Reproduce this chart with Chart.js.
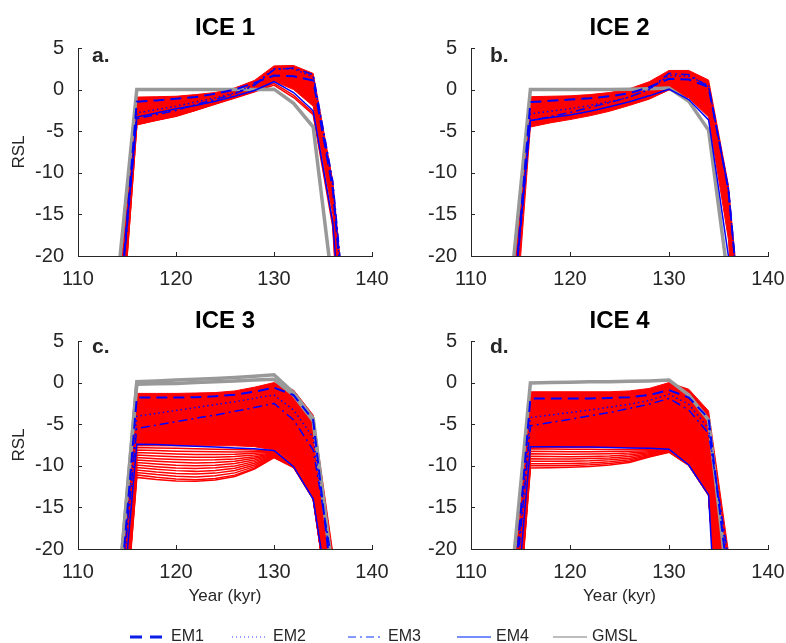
<!DOCTYPE html>
<html>
<head>
<meta charset="utf-8">
<title>RSL ensembles, ICE 1-4</title>
<script src="https://cdn.jsdelivr.net/npm/chart.js@4.4.1/dist/chart.umd.min.js"></script>
<style>
  html, body { margin: 0; padding: 0; background: #ffffff; }
  #fig { position: relative; width: 786px; height: 643px; overflow: hidden; background: #ffffff; }
  #fig canvas { position: absolute; }
  #key { position: absolute; left: 0; top: 600px; }
</style>
</head>
<body>
<div id="fig">
  <canvas id="ice1" width="393" height="300" style="left:0;top:0;width:393px;height:300px"></canvas>
  <canvas id="ice2" width="393" height="300" style="left:393px;top:0;width:393px;height:300px"></canvas>
  <canvas id="ice3" width="393" height="319" style="left:0;top:293px;width:393px;height:319px"></canvas>
  <canvas id="ice4" width="393" height="319" style="left:393px;top:293px;width:393px;height:319px"></canvas>
  <svg id="key" width="786" height="43" xmlns="http://www.w3.org/2000/svg"></svg>
</div>
<script>
// Sample ages (kyr) shared by every curve
const years = [114, 116, 118, 120, 122, 124, 126, 128, 130, 132, 134, 136, 138];
const emNames = ['EM1', 'EM2', 'EM3', 'EM4'];

// ---- ICE 1 ----
const gmsl1   = [-23.5, 0, 0, 0, 0, 0, 0, 0, 0.05, -1.65, -4.5, -23.8, -45];
const em1Ice1 = [-30, -1.45, -1.3, -1.1, -0.9, -0.5, 0, 0.8, 1.7, 1.6, 1.1, -12, -38];
const em2Ice1 = [-30, -2.8, -2.4, -2.0, -1.5, -1.0, -0.4, 0.6, 2.5, 2.5, 1.5, -11.5, -38];
const em3Ice1 = [-30, -3.5, -3.0, -2.5, -1.8, -1.2, -0.5, 0.5, 2.4, 2.6, 1.8, -11, -36];
const em4Ice1 = [-29, -3.3, -2.8, -2.3, -1.9, -1.4, -0.8, -0.1, 0.95, -0.35, -2.55, -16, -46];
const redTop1  = [-26, -0.9, -0.85, -0.8, -0.6, -0.35, 0.2, 1.1, 2.85, 2.9, 1.95, -11, -36];
const redBase1 = [-36, -4.25, -3.7, -3.2, -2.5, -1.7, -0.9, -0.15, 1.0, 0.0, -2.0, -15, -50];
const redLines1 = [
  [-36, -4.1, -3.6, -3.1, -2.45, -1.7, -0.95, -0.2, 0.75, -0.7, -2.8, -16, -54],
  [-36, -4.2, -3.7, -3.2, -2.5, -1.75, -1.0, -0.25, 0.55, -0.95, -3.0, -16.5, -56]
];

// ---- ICE 2 ----
const gmsl2   = [-24, 0, 0, 0, 0, 0, 0.05, 0.1, 0.2, -1.4, -4.9, -23, -45];
const em1Ice2 = [-30, -1.5, -1.35, -1.2, -1.05, -0.8, -0.45, 0.3, 1.3, 1.2, 0.3, -12, -38];
const em2Ice2 = [-30, -2.9, -2.6, -2.3, -1.9, -1.45, -0.9, 0.0, 1.7, 1.6, 0.5, -12, -38];
const em3Ice2 = [-30, -3.75, -3.25, -2.75, -2.15, -1.55, -0.9, 0.05, 1.95, 1.8, 0.35, -12, -38];
const em4Ice2 = [-29, -3.7, -3.35, -3.05, -2.6, -2.05, -1.45, -0.75, 0.05, -1.2, -3.65, -20, -50];
const redTop2  = [-26, -0.85, -0.8, -0.75, -0.6, -0.35, 0.1, 0.95, 2.3, 2.3, 1.15, -11.5, -37];
const redBase2 = [-36, -4.5, -4.0, -3.6, -3.15, -2.6, -1.9, -1.15, -0.05, -1.0, -3.3, -18, -55];
const redLines2 = [];

// ---- ICE 3 ----
const gmsl3   = [-26.7, 0.1, 0.2, 0.3, 0.4, 0.5, 0.6, 0.75, 0.95, -1.2, -4.3, -22.8, -45];
const gmsl3b  = [-26.7, -0.2, -0.15, -0.1, 0, 0.1, 0.2, 0.3, 0.4, -1.5, -4.6, -23.5, -45];
const em1Ice3 = [-30, -1.8, -1.8, -1.8, -1.75, -1.65, -1.45, -1.1, -0.6, -1.5, -4.5, -25, -45];
const em2Ice3 = [-30, -4.05, -3.7, -3.35, -3.0, -2.65, -2.3, -1.9, -1.5, -3.3, -6.6, -23.3, -45];
const em3Ice3 = [-30, -5.5, -5.1, -4.7, -4.3, -3.9, -3.45, -3.0, -2.5, -4.5, -8.1, -22, -45];
const em4Ice3 = [-34, -7.4, -7.45, -7.55, -7.65, -7.75, -7.85, -7.95, -8.15, -10.1, -14.0, -29, -50];
const redTop3  = [-28, -1.3, -1.3, -1.3, -1.25, -1.2, -1.0, -0.55, 0.0, -0.9, -3.9, -20.4, -40];
const redBase3 = [-38, -7.6, -7.6, -7.6, -7.6, -7.6, -7.6, -7.7, -8.1, -9.6, -13.4, -30, -50];
const redLines3 = [
  [-38, -7.8, -7.85, -7.9, -7.95, -8.0, -8.05, -8.1, -8.25, -9.7, -13.5, -30, -50],
  [-38, -8.1, -8.17, -8.24, -8.29, -8.32, -8.33, -8.3, -8.3, -9.75, -13.5, -30, -50],
  [-38.5, -8.4, -8.5, -8.58, -8.63, -8.64, -8.61, -8.5, -8.38, -9.8, -13.6, -30, -50],
  [-38.5, -8.7, -8.82, -8.91, -8.97, -8.96, -8.89, -8.7, -8.45, -9.85, -13.6, -30, -50],
  [-39, -9.0, -9.14, -9.25, -9.31, -9.28, -9.17, -8.9, -8.52, -9.9, -13.7, -30, -50],
  [-39, -9.3, -9.46, -9.58, -9.65, -9.6, -9.45, -9.1, -8.6, -9.95, -13.7, -30, -50],
  [-39, -9.6, -9.78, -9.92, -9.99, -9.92, -9.73, -9.3, -8.67, -10.0, -13.8, -30, -50],
  [-39.5, -9.9, -10.1, -10.25, -10.33, -10.24, -10.01, -9.5, -8.74, -10.0, -13.8, -30, -50],
  [-39.5, -10.2, -10.42, -10.58, -10.67, -10.56, -10.29, -9.7, -8.8, -10.05, -13.8, -30, -50],
  [-40, -10.5, -10.74, -10.92, -11.0, -10.88, -10.57, -9.9, -8.86, -10.1, -13.9, -30, -50],
  [-40, -10.8, -11.06, -11.25, -11.34, -11.2, -10.85, -10.1, -8.92, -10.1, -13.9, -30, -50],
  [-40.5, -11.1, -11.37, -11.58, -11.67, -11.52, -11.12, -10.28, -8.97, -10.15, -14.0, -30, -50],
  [-40.5, -11.4, -11.66, -11.82, -11.87, -11.72, -11.28, -10.38, -9.0, -10.2, -14.0, -30, -50]
];

// ---- ICE 4 ----
const gmsl4   = [-25, -0.05, 0, 0.05, 0.1, 0.1, 0.15, 0.2, 0.3, -1.5, -4.5, -25, -45];
const em1Ice4 = [-30, -1.9, -1.9, -1.9, -1.9, -1.85, -1.75, -1.5, -0.9, -1.8, -4.3, -24, -45];
const em2Ice4 = [-30, -4.2, -3.9, -3.6, -3.3, -2.95, -2.6, -2.15, -1.4, -2.6, -5.5, -22.5, -45];
const em3Ice4 = [-31, -5.2, -4.8, -4.4, -4.0, -3.6, -3.1, -2.6, -1.9, -3.3, -6.1, -21.1, -45];
const em4Ice4 = [-35, -7.7, -7.7, -7.75, -7.75, -7.8, -7.85, -7.9, -8.0, -9.9, -13.5, -56, -80];
const redTop4  = [-28, -1.1, -1.1, -1.1, -1.1, -1.1, -1.0, -0.7, 0.0, -0.8, -3.4, -20.3, -40];
const redBase4 = [-38, -7.8, -7.8, -7.8, -7.8, -7.8, -7.8, -7.9, -8.0, -9.6, -13.1, -45, -70];
const redLines4 = [
  [-38, -7.95, -7.98, -8.0, -8.02, -8.03, -8.04, -8.05, -8.08, -9.6, -13.2, -45, -70],
  [-38, -8.25, -8.28, -8.3, -8.3, -8.28, -8.25, -8.18, -8.11, -9.65, -13.25, -45, -70],
  [-38.5, -8.55, -8.58, -8.6, -8.59, -8.55, -8.47, -8.3, -8.15, -9.7, -13.3, -45, -70],
  [-38.5, -8.85, -8.88, -8.9, -8.87, -8.81, -8.68, -8.43, -8.19, -9.75, -13.35, -45, -70],
  [-39, -9.15, -9.17, -9.17, -9.13, -9.05, -8.89, -8.55, -8.23, -9.8, -13.4, -45, -70],
  [-39, -9.45, -9.46, -9.45, -9.4, -9.28, -9.08, -8.67, -8.26, -9.85, -13.45, -45, -70],
  [-39.5, -9.75, -9.75, -9.72, -9.65, -9.51, -9.27, -8.78, -8.3, -9.9, -13.5, -45, -70],
  [-39.5, -10.0, -9.99, -9.95, -9.87, -9.71, -9.44, -8.88, -8.33, -9.9, -13.5, -45, -70],
  [-40, -10.25, -10.23, -10.18, -10.08, -9.9, -9.6, -8.95, -8.36, -9.95, -13.55, -45, -70]
];

// ---- shared styling ----
const FONT = '"Liberation Sans", Arial, Helvetica, sans-serif';
const INK = '#262626';
const RED = '#ff0000';
const GREY = '#999999';
const emStyle = [
  { color: '#0000ff', width: 2,   dash: [11, 6] },
  { color: '#0000ff', width: 1.5, dash: [1.5, 3] },
  { color: '#0000ff', width: 1.5, dash: [9, 4, 2, 4] },
  { color: '#0000ff', width: 1.5, dash: [] }
];
const keyStyle = [
  { color: '#0a1ee6', width: 3,   dash: '12 8' },
  { color: '#3040ff', width: 1.2, dash: '1 3' },
  { color: '#5a78ff', width: 1.5, dash: '8 4 2 4' },
  { color: '#4a66ff', width: 1.5, dash: '' },
  { color: '#bdbdbd', width: 2,   dash: '' }
];

const panels = [
  { id: 'ice1', title: 'ICE 1', tag: 'a.', dx: 14, dy: 14, em: [em1Ice1, em2Ice1, em3Ice1, em4Ice1],
    gmsl: [gmsl1], members: redLines1, top: redTop1, base: redBase1, yTitle: true, xTitle: false, xHeight: 44, padRight: 21 },
  { id: 'ice2', title: 'ICE 2', tag: 'b.', dx: 19, dy: 14, em: [em1Ice2, em2Ice2, em3Ice2, em4Ice2],
    gmsl: [gmsl2], members: redLines2, top: redTop2, base: redBase2, yTitle: false, xTitle: false, xHeight: 44, padRight: 18 },
  { id: 'ice3', title: 'ICE 3', tag: 'c.', dx: 14, dy: 12, em: [em1Ice3, em2Ice3, em3Ice3, em4Ice3],
    gmsl: [gmsl3, gmsl3b], members: redLines3, top: redTop3, base: redBase3, yTitle: true, xTitle: true, xHeight: 63, padRight: 21 },
  { id: 'ice4', title: 'ICE 4', tag: 'd.', dx: 19, dy: 12, em: [em1Ice4, em2Ice4, em3Ice4, em4Ice4],
    gmsl: [gmsl4], members: redLines4, top: redTop4, base: redBase4, yTitle: false, xTitle: true, xHeight: 63, padRight: 18 }
];

function pts(vals) { return years.map((x, i) => ({ x: x, y: vals[i] })); }

// Inward tick marks (box-off axes) plus the panel letter in the top-left corner
const axisDecor = {
  id: 'axisDecor',
  afterDatasetsDraw(chart, args, opts) {
    const { ctx, chartArea: a, scales: { x, y } } = chart;
    ctx.save();
    ctx.strokeStyle = INK;
    ctx.lineWidth = 1;
    ctx.beginPath();
    x.ticks.forEach(t => {
      const px = Math.round(x.getPixelForValue(t.value)) + 0.5;
      ctx.moveTo(px, a.bottom); ctx.lineTo(px, a.bottom - 4);
    });
    y.ticks.forEach(t => {
      const py = Math.round(y.getPixelForValue(t.value)) + 0.5;
      ctx.moveTo(a.left, py); ctx.lineTo(a.left + 4, py);
    });
    ctx.stroke();
    ctx.fillStyle = INK;
    ctx.font = 'bold 21px ' + FONT;
    ctx.textAlign = 'left';
    ctx.textBaseline = 'alphabetic';
    ctx.fillText(opts.tag, a.left + opts.dx, a.top + opts.dy);
    ctx.restore();
  }
};

function buildDatasets(p) {
  const ds = [];
  p.em.forEach((vals, i) => ds.push({
    label: emNames[i], data: pts(vals), borderColor: emStyle[i].color,
    borderWidth: emStyle[i].width, borderDash: emStyle[i].dash
  }));
  p.gmsl.forEach(vals => ds.push({ label: 'GMSL', data: pts(vals), borderColor: GREY, borderWidth: 3.5 }));
  p.members.forEach(vals => ds.push({ label: 'member', data: pts(vals), borderColor: RED, borderWidth: 1.5 }));
  ds.push({ label: 'ensemble upper', data: pts(p.top), borderColor: RED, borderWidth: 1 });
  ds.push({ label: 'ensemble lower', data: pts(p.base), borderColor: RED, borderWidth: 1,
            fill: '-1', backgroundColor: RED });
  return ds;
}

panels.forEach(p => {
  new Chart(document.getElementById(p.id), {
    type: 'line',
    data: { datasets: buildDatasets(p) },
    plugins: [axisDecor],
    options: {
      responsive: false,
      animation: false,
      devicePixelRatio: 1,
      layout: { padding: { top: 0, left: 0, bottom: 0, right: p.padRight } },
      elements: {
        point: { radius: 0, hoverRadius: 0 },
        line: { tension: 0, borderCapStyle: 'butt', borderJoinStyle: 'miter', fill: false }
      },
      plugins: {
        legend: { display: false },
        tooltip: { enabled: false },
        title: {
          display: true, text: p.title, color: '#000000', fullSize: false,
          font: { family: FONT, size: 24, weight: 'bold', lineHeight: 1 },
          padding: { top: 16, bottom: 8 }
        },
        axisDecor: { tag: p.tag, dx: p.dx, dy: p.dy }
      },
      scales: {
        x: {
          type: 'linear', position: 'bottom', min: 110, max: 140,
          ticks: { stepSize: 10, padding: 11, color: INK, font: { family: FONT, size: 20 }, maxRotation: 0, autoSkip: false },
          grid: { display: false, drawTicks: false },
          border: { display: true, color: INK, width: 1 },
          title: { display: p.xTitle, text: 'Year (kyr)', color: INK, font: { family: FONT, size: 17 }, padding: { top: 0, bottom: 5 } },
          afterFit(s) { s.height = p.xHeight; s.paddingLeft = 0; s.paddingRight = 0; }
        },
        y: {
          type: 'linear', position: 'left', min: -20, max: 5,
          ticks: { stepSize: 5, padding: 14, color: INK, font: { family: FONT, size: 20 } },
          grid: { display: false, drawTicks: false },
          border: { display: true, color: INK, width: 1 },
          title: { display: p.yTitle, text: 'RSL', color: INK, font: { family: FONT, size: 17 }, padding: { top: 9, bottom: 0 } },
          afterFit(s) { s.width = 78; s.paddingTop = 0; s.paddingBottom = 0; }
        }
      }
    }
  });
});

// Shared key along the bottom of the figure
const keyNames = emNames.concat(['GMSL']);
const keySample = [130, 232, 348, 457, 553];
const keyText = [171, 273, 388, 496, 592];
const svgNS = 'http://www.w3.org/2000/svg';
const key = document.getElementById('key');
keyNames.forEach((name, i) => {
  const ln = document.createElementNS(svgNS, 'line');
  ln.setAttribute('x1', keySample[i]);
  ln.setAttribute('x2', keySample[i] + 34);
  ln.setAttribute('y1', 37);
  ln.setAttribute('y2', 37);
  ln.setAttribute('stroke', keyStyle[i].color);
  ln.setAttribute('stroke-width', keyStyle[i].width);
  if (keyStyle[i].dash) ln.setAttribute('stroke-dasharray', keyStyle[i].dash);
  key.appendChild(ln);
  const tx = document.createElementNS(svgNS, 'text');
  tx.setAttribute('x', keyText[i]);
  tx.setAttribute('y', 41);
  tx.setAttribute('fill', INK);
  tx.setAttribute('font-family', 'Liberation Sans, Arial, sans-serif');
  tx.setAttribute('font-size', '16');
  tx.textContent = name;
  key.appendChild(tx);
});
</script>
</body>
</html>
